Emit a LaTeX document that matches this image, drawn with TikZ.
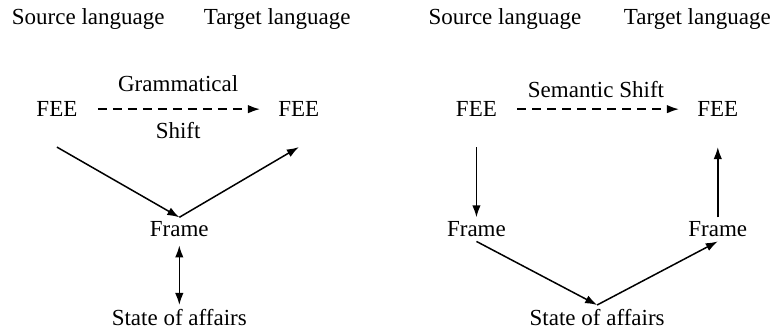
\documentclass[tikz,border=0pt]{standalone}
\usepackage{fontspec}
\setmainfont{Liberation Serif}
\usetikzlibrary{arrows.meta}
\begin{document}
\begin{tikzpicture}[>={Latex[length=6pt,width=4.2pt]},
  every node/.style={font=\fontsize{11.5}{14}\selectfont, anchor=base, inner sep=2pt},
  link/.style={->, line width=0.75pt},
  shiftlink/.style={link, dash pattern=on 4.5pt off 3pt, shorten <=8pt, shorten >=7pt}]

\useasboundingbox (0,0) rectangle (13.58,5.83);

% grammatical shift
\node (srcA) at (1.55,5.40) {Source language};
\node (tgtA) at (4.87,5.40) {Target language};
\node (feeA1) at (1.00,3.78) {FEE};
\node (feeA2) at (5.25,3.78) {FEE};
\node (gram) at (3.13,4.22) {Grammatical};
\node (gshift) at (3.13,3.39) {Shift};
\node (frameA) at (3.15,1.67) {Frame};
\node (stateA) at (3.15,0.11) {State of affairs};

\draw[shiftlink] (feeA1) -- (feeA2);
\draw[link] ([yshift=-13pt]feeA1.south) -- (frameA.north);
\draw[link] (frameA.north) -- ([yshift=-13pt]feeA2.south);
\draw[link, <->, shorten <=2pt] (frameA.south) -- (stateA.north);

% semantic shift
\node (srcB) at (8.87,5.40) {Source language};
\node (tgtB) at (12.25,5.40) {Target language};
\node (feeB1) at (8.37,3.78) {FEE};
\node (feeB2) at (12.61,3.78) {FEE};
\node (sem) at (10.47,4.11) {Semantic Shift};
\node (frameB1) at (8.37,1.67) {Frame};
\node (frameB2) at (12.61,1.67) {Frame};
\node (stateB) at (10.49,0.11) {State of affairs};

\draw[shiftlink] (feeB1) -- (feeB2);
\draw[link] ([yshift=-13pt]feeB1.south) -- (frameB1.north);
\draw[link] (frameB1.south) -- (stateB.north);
\draw[link] (stateB.north) -- (frameB2.south);
\draw[link] (frameB2.north) -- ([yshift=-13pt]feeB2.south);

\end{tikzpicture}
\end{document}
